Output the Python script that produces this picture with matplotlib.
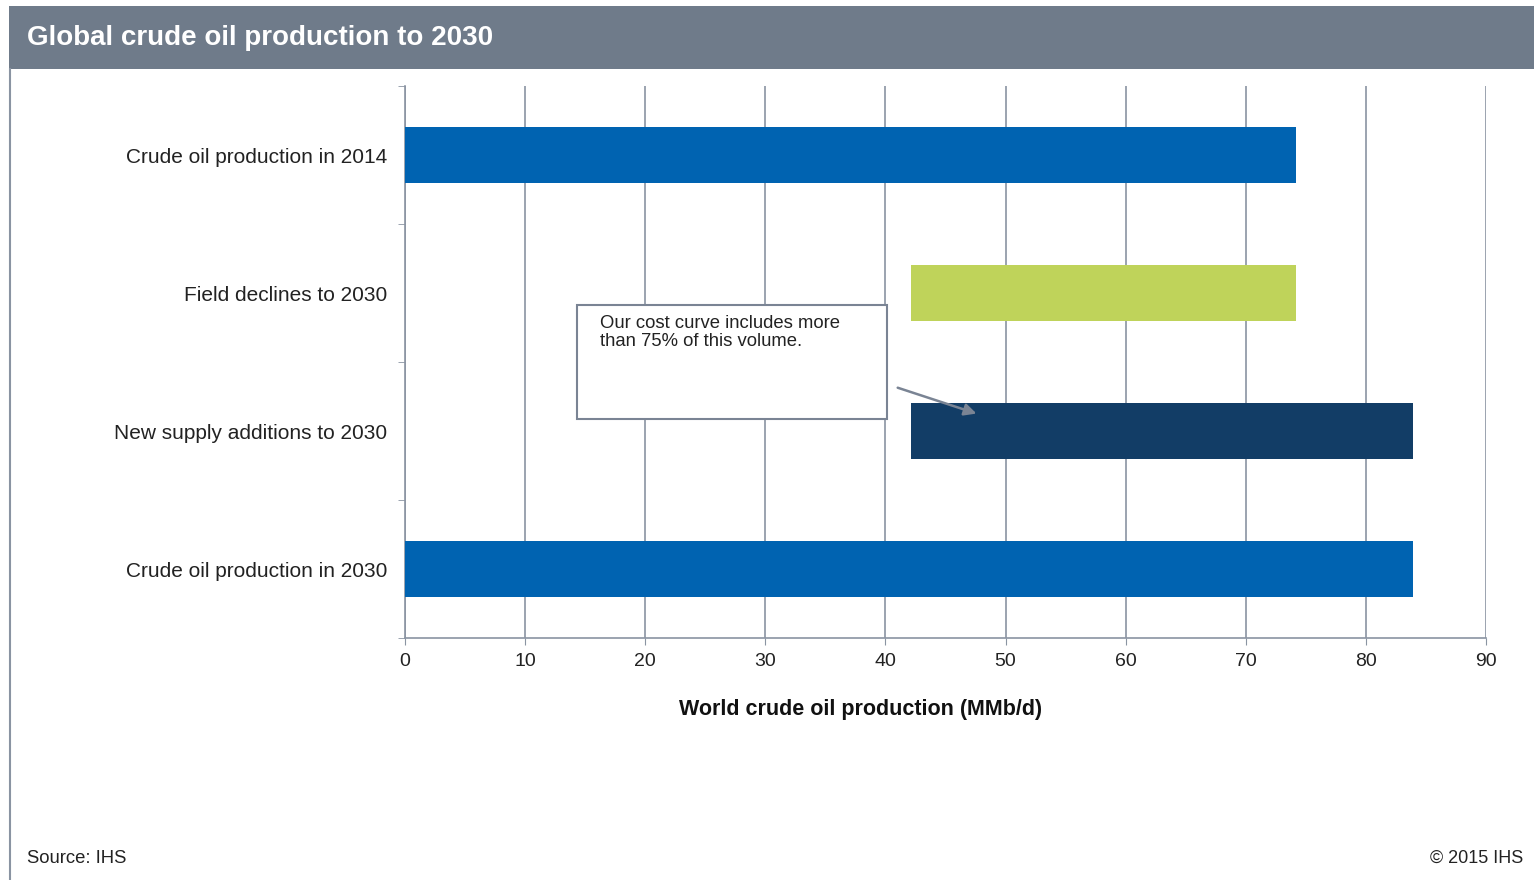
import matplotlib.pyplot as plt
from matplotlib.patches import Rectangle

plt.rcParams['font.family'] = ['Liberation Sans', 'DejaVu Sans']

# data
categories = ['Crude oil production in 2014', 'Field declines to 2030',
              'New supply additions to 2030', 'Crude oil production in 2030']
starts = [0, 42.1, 42.1, 0]
ends = [74.2, 74.2, 83.9, 83.9]
colors = ['#0063b1', '#bfd35a', '#123d66', '#0063b1']
xticks = [0, 10, 20, 30, 40, 50, 60, 70, 80, 90]

grid_col = '#8a94a2'

fig = plt.figure(figsize=(15.34, 8.8), dpi=100)

# title bar and frame
fig.patches.append(Rectangle((9 / 1534, 1 - 69 / 880), 1 - 9 / 1534, 63 / 880,
                             transform=fig.transFigure, facecolor='#6f7b8a',
                             edgecolor='none', zorder=0))
fig.lines.append(plt.Line2D([9.5 / 1534, 9.5 / 1534], [0, 1 - 69 / 880],
                            transform=fig.transFigure, color='#8a94a2', lw=1.5))
fig.text(27 / 1534, 1 - 38 / 880, 'Global crude oil production to 2030',
         color='white', fontsize=20, fontweight='bold', va='center', ha='left')

ax = fig.add_axes([405 / 1534, 1 - 638 / 880, 1081 / 1534, 552 / 880])
widths = [e - s for s, e in zip(starts, ends)]
ypos = range(len(categories))
ax.barh(ypos, widths, left=starts, height=0.4, color=colors, zorder=3)

ax.set_xlim(0, 90)
ax.set_ylim(3.5, -0.5)
ax.set_xticks(xticks)
ax.set_xticklabels([str(t) for t in xticks], fontsize=14, color='#222222')
ax.set_yticks(list(ypos))
ax.set_yticklabels(categories, fontsize=15, color='#222222')
ax.tick_params(axis='y', which='major', length=0, pad=13)
ax.set_yticks([-0.5, 0.5, 1.5, 2.5, 3.5], minor=True)
ax.tick_params(axis='y', which='minor', length=5, color=grid_col, direction='out')
ax.tick_params(axis='x', length=5, color=grid_col, direction='out', pad=6)
ax.grid(axis='x', color=grid_col, lw=1.2, zorder=0)
for s in ['top', 'right']:
    ax.spines[s].set_visible(False)
for s in ['left', 'bottom']:
    ax.spines[s].set_color(grid_col)
    ax.spines[s].set_linewidth(1.2)
ax.set_xlabel('World crude oil production (MMb/d)', fontsize=15.5,
              fontweight='bold', labelpad=20, color='#111111')
ax.xaxis.set_label_coords(0.421, -0.11)

# callout box
ax.add_patch(Rectangle((14.3, 1.087), 25.8, 0.826, facecolor='white',
                       edgecolor='#7a8494', lw=1.5, zorder=4))
ax.text(16.2, 1.16, 'Our cost curve includes more\nthan 75% of this volume.',
        fontsize=13.3, va='top', ha='left', linespacing=1.05, zorder=5,
        color='#222222')
ax.annotate('', xy=(47.8, 1.88), xytext=(40.8, 1.68),
            arrowprops=dict(arrowstyle='-|>', color='#7a8494', lw=1.8,
                            mutation_scale=18), zorder=5)

fig.text(27 / 1534, 1 - 858 / 880, 'Source: IHS', fontsize=13.3,
         va='center', ha='left', color='#222222')
fig.text(1523 / 1534, 1 - 858 / 880, '\u00a9 2015 IHS', fontsize=13,
         va='center', ha='right', color='#222222')

fig.savefig('out.png', dpi=100)
